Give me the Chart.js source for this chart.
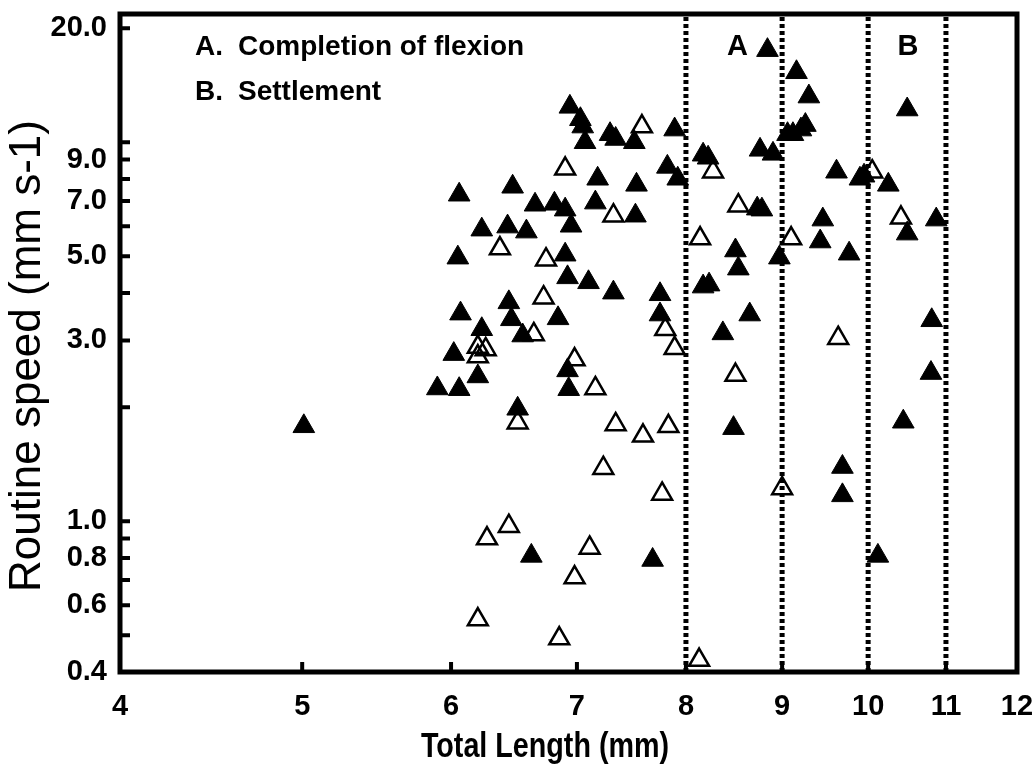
<!DOCTYPE html>
<html>
<head>
<meta charset="utf-8">
<title>Routine speed vs total length</title>
<script src="https://cdn.jsdelivr.net/npm/chart.js@4.4.1/dist/chart.umd.min.js"></script>
<style>
  html, body { margin: 0; padding: 0; background: #fff; }
  #wrap { width: 1036px; height: 776px; }
</style>
</head>
<body>
<div id="wrap"><canvas id="grafica" width="1036" height="776"></canvas></div>
<script>
// Values: total length (mm) and routine speed (mm s-1)
const filledLength = [5.01, 5.90, 6.06, 6.06, 6.05, 6.07, 6.02, 6.20, 6.23, 6.23, 6.43, 6.47, 6.58, 6.44, 6.46, 6.55, 6.51, 6.62, 6.65, 6.81,
  6.90, 6.95, 6.90, 6.92, 6.84, 6.92, 6.93, 6.94, 7.03, 7.05, 7.07, 7.29, 7.34, 7.51, 7.89, 7.18, 7.53, 7.82, 7.92, 7.16,
  7.52, 7.10, 7.32, 7.75, 7.75, 7.68, 8.84, 9.16, 9.30, 9.06, 9.12, 9.21, 9.26, 10.49, 8.76, 8.90, 8.17, 8.22, 9.62, 9.90,
  9.95, 10.25, 8.73, 8.78, 9.46, 10.49, 10.87, 8.97, 8.50, 8.53, 9.43, 9.77, 8.17, 8.23, 8.65, 8.37, 10.81, 10.80, 8.48, 10.44,
  9.69, 9.69, 10.12];
const filledSpeed = [1.78, 2.24, 2.23, 7.27, 4.96, 3.53, 2.76, 2.41, 5.88, 3.21, 5.99, 7.63, 5.81, 3.78, 3.41, 3.09, 1.98, 0.81, 6.84, 6.88,
  6.64, 6.02, 5.05, 4.40, 3.43, 2.50, 2.23, 12.4, 11.5, 11.0, 10.0, 10.5, 10.2, 10.0, 10.8, 8.01, 7.72, 8.61, 8.01, 6.93,
  6.40, 4.27, 4.01, 3.97, 3.51, 0.79, 17.5, 15.3, 13.2, 10.5, 10.5, 10.8, 11.1, 12.2, 9.55, 9.32, 9.27, 9.10, 8.36, 8.01,
  8.16, 7.72, 6.68, 6.64, 6.25, 5.74, 6.25, 4.96, 5.18, 4.64, 5.47, 5.08, 4.16, 4.21, 3.51, 3.13, 3.39, 2.46, 1.76, 1.83,
  1.39, 1.17, 0.81];
const openLength = [6.90, 7.58, 8.27, 6.37, 6.74, 7.32, 8.53, 10.41, 8.14, 9.10, 6.72, 6.64, 7.80, 7.89, 6.20, 6.26, 6.20, 6.98,
  7.16, 8.50, 9.64, 6.51, 7.34, 7.59, 7.83, 7.23, 7.77, 9.00, 6.44, 6.27, 7.11, 6.98, 6.20, 6.85, 8.13, 10.05];
const openSpeed = [8.51, 11.0, 8.36, 5.24, 4.90, 6.40, 6.80, 6.32, 5.57, 5.57, 3.89, 3.11, 3.21, 2.86, 2.88, 2.84, 2.72, 2.67,
  2.24, 2.43, 3.04, 1.82, 1.80, 1.68, 1.78, 1.38, 1.18, 1.22, 0.97, 0.90, 0.85, 0.71, 0.55, 0.49, 0.43, 8.36];

// Axes
const xTicks = [4, 5, 6, 7, 8, 9, 10, 11, 12];
const yTicks = [0.4, 0.5, 0.6, 0.7, 0.8, 0.9, 1, 2, 3, 4, 5, 6, 7, 8, 9, 10, 20];
const yLabels = { 0.4: '0.4', 0.6: '0.6', 0.8: '0.8', 1: '1.0', 3: '3.0', 5: '5.0', 7: '7.0', 9: '9.0', 20: '20.0' };
const yMin = 0.4, yMax = 21.8;
const xTitle = 'Total Length (mm)';
const yTitle = 'Routine speed (mm s-1)';

// Stage boundaries (dotted lines) and their labels
const stageLines = [8, 9, 10, 11];
const stageNames = ['A', 'B'];
const stageNameX = [8.52, 10.5];
const noteKeys = ['A.', 'B.'];
const noteText = ['Completion of flexion', 'Settlement'];

const sans = '"Liberation Sans", Arial, sans-serif';

// frame, inward ticks, axis titles and text notes
const decor = {
    id: 'decor',
    afterDraw(chart) {
        const { ctx, chartArea: a, scales: { x, y } } = chart;
        ctx.save();
        ctx.strokeStyle = '#000';
        ctx.lineWidth = 4;
        ctx.beginPath();
        yTicks.forEach(v => {
            const py = y.getPixelForValue(v);
            ctx.moveTo(a.left, py);
            ctx.lineTo(a.left + 10, py);
        });
        xTicks.forEach(v => {
            const px = x.getPixelForValue(v);
            ctx.moveTo(px, a.bottom);
            ctx.lineTo(px, a.bottom - 10);
        });
        ctx.stroke();

        ctx.lineWidth = 5;
        ctx.strokeRect(a.left, a.top, a.right - a.left, a.bottom - a.top);

        ctx.fillStyle = '#000';
        ctx.textBaseline = 'alphabetic';
        ctx.font = 'bold 28px ' + sans;
        ctx.textAlign = 'left';
        noteKeys.forEach((k, i) => {
            const by = a.top + 41 + i * 45;
            ctx.fillText(k, a.left + 75, by);
            ctx.fillText(noteText[i], a.left + 118, by);
        });
        ctx.font = 'bold 29px ' + sans;
        ctx.textAlign = 'center';
        stageNames.forEach((n, i) => {
            ctx.fillText(n, x.getPixelForValue(stageNameX[i]), a.top + 41);
        });

        // axis titles (x title is set in a condensed bold face, like the original)
        ctx.textBaseline = 'middle';
        ctx.save();
        ctx.translate(545, 747);
        ctx.scale(0.82, 1);
        ctx.font = 'bold 35px ' + sans;
        ctx.fillText(xTitle, 0, 0);
        ctx.restore();

        ctx.save();
        ctx.translate(28, 356);
        ctx.rotate(-Math.PI / 2);
        ctx.font = '44px ' + sans;
        ctx.fillText(yTitle, 0, 0);
        ctx.restore();
        ctx.restore();
    }
};

const filledData = filledLength.map((v, i) => ({ x: v, y: filledSpeed[i] }));
const openData = openLength.map((v, i) => ({ x: v, y: openSpeed[i] }));
const lineSets = stageLines.map(v => ({
    label: 'stage ' + v,
    data: [{ x: v, y: yMin }, { x: v, y: yMax }],
    showLine: true,
    borderColor: '#000',
    borderWidth: 5,
    borderDash: [4, 3],
    pointRadius: 0,
    order: 0
}));

new Chart(document.getElementById('grafica'), {
    type: 'scatter',
    data: {
        datasets: [
            {
                label: 'filled',
                data: filledData,
                pointStyle: 'triangle',
                pointRadius: 12.5,
                backgroundColor: '#000',
                borderColor: '#000',
                borderWidth: 1,
                order: 1
            },
            {
                label: 'open',
                data: openData,
                pointStyle: 'triangle',
                pointRadius: 11.5,
                backgroundColor: 'rgba(0,0,0,0)',
                borderColor: '#000',
                borderWidth: 2.5,
                order: 2
            },
            ...lineSets
        ]
    },
    options: {
        responsive: false,
        animation: false,
        events: [],
        layout: { padding: { left: 0, right: 19, top: 12, bottom: 0 } },
        plugins: { legend: { display: false }, tooltip: { enabled: false } },
        scales: {
            x: {
                type: 'logarithmic',
                min: 4,
                max: 12,
                afterBuildTicks: s => { s.ticks = xTicks.map(v => ({ value: v })); },
                afterFit: s => { s.height = 104; s.paddingLeft = 0; s.paddingRight = 0; },
                grid: { display: false, drawTicks: false },
                border: { display: false },
                ticks: {
                    autoSkip: false, maxRotation: 0, padding: 18, color: '#000',
                    font: { family: sans, size: 29, weight: 'bold' },
                    callback: v => String(v)
                }
            },
            y: {
                type: 'logarithmic',
                min: yMin,
                max: yMax,
                afterBuildTicks: s => { s.ticks = yTicks.map(v => ({ value: v })); },
                afterFit: s => { s.width = 120; s.paddingTop = 0; s.paddingBottom = 0; },
                grid: { display: false, drawTicks: false },
                border: { display: false },
                ticks: {
                    autoSkip: false, padding: 13, color: '#000',
                    font: { family: sans, size: 29, weight: 'bold' },
                    callback: v => yLabels[v] || ''
                }
            }
        }
    },
    plugins: [decor]
});
</script>
</body>
</html>
